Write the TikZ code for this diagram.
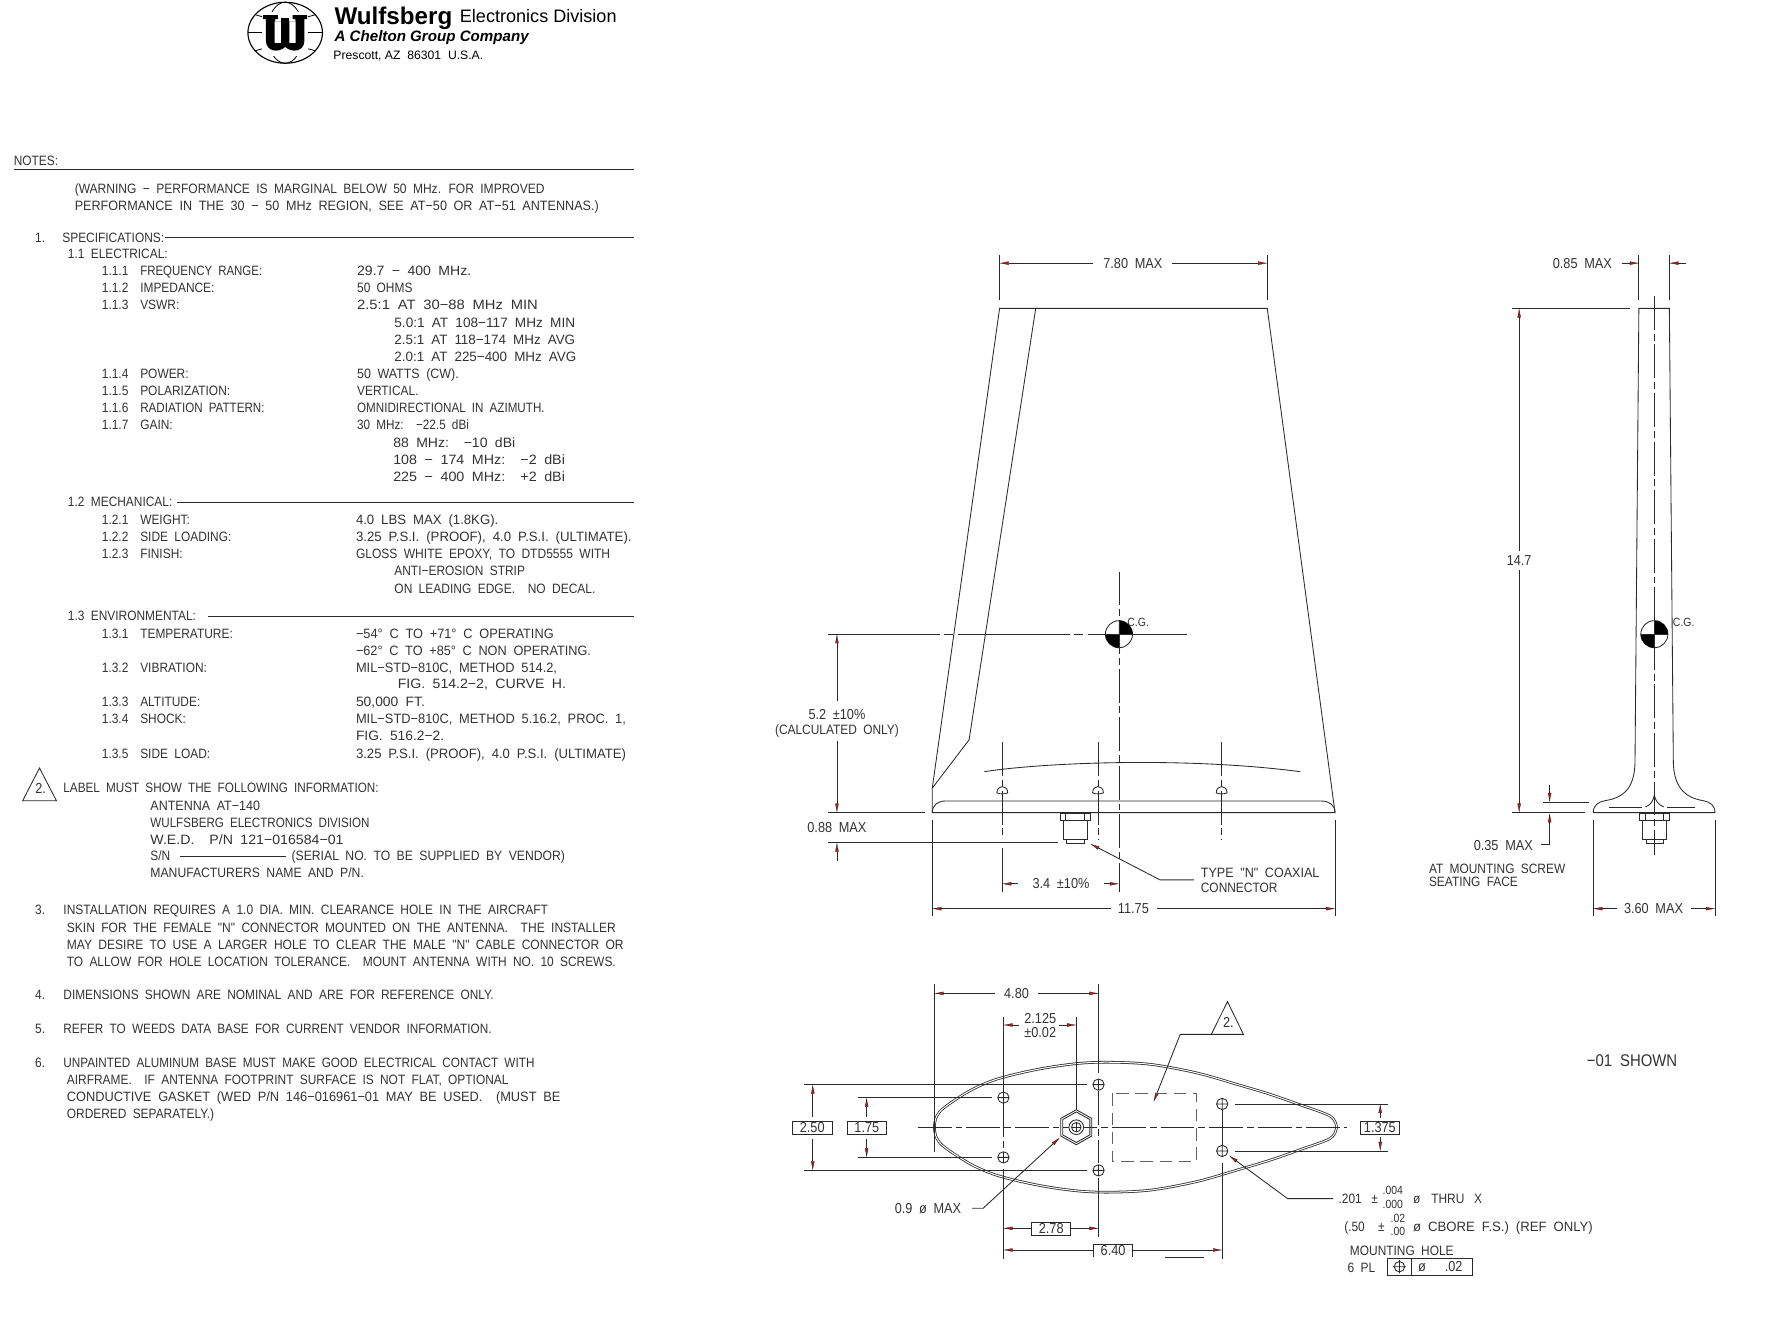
\documentclass[tikz,border=0pt]{standalone}
\usepackage{fontspec}
\usepackage{graphicx}
\usetikzlibrary{arrows.meta,calc}
\setmainfont{Liberation Sans}
\newfontfamily\cad[FakeStretch=0.88,WordSpace=1.9]{Liberation Sans}
\definecolor{arred}{HTML}{B02020}
\definecolor{ink}{HTML}{2A2A2A}
\definecolor{txtc}{HTML}{333333}
\tikzset{
  redtip/.tip={Latex[length=8pt,width=3pt,fill=arred,color=black,line width=.2pt]},
  ln/.style={draw=ink,line width=.75pt},
  arr/.style={ln,-redtip},
  cl/.style={ln,dash pattern=on 30pt off 3.5pt on 6pt off 3.5pt},
  clh/.style={ln,dash pattern=on 99pt off 4pt on 8pt off 4pt},
  txt/.style={inner sep=0pt,text=txtc,font=\cad\fontsize{12}{13}\selectfont},
  dimt/.style={inner sep=0pt,text=txtc,font=\cad\fontsize{12.8}{14}\selectfont},
  sm/.style={inner sep=0pt,text=txtc,font=\cad\fontsize{10.5}{11}\selectfont},
  bx/.style={draw=ink,line width=.75pt,fill=white,inner sep=0pt,text=txtc,font=\cad\fontsize{12.8}{14}\selectfont},
}
\newcounter{tn}
\newcommand{\tx}[3]{\stepcounter{tn}\node[txt,anchor=base west] (t\arabic{tn}) at (#1,#2+4.3) {#3};}
% fitted line: runs from x=#1 to x=#3, scaled horizontally only
\newcommand{\tf}[4]{\stepcounter{tn}\node[txt,anchor=base west] (t\arabic{tn}) at (#1,#2+4.3) {\resizebox{\dimexpr#3pt-#1pt\relax}{\height}{#4}};}
\newcommand{\tc}[3]{\stepcounter{tn}\node[dimt,anchor=base] (t\arabic{tn}) at (#1,#2+4.3) {#3};}
\newcommand{\ts}[3]{\stepcounter{tn}\node[sm,anchor=base west] (t\arabic{tn}) at (#1,#2+3.7) {#3};}
\newcommand{\hole}[2]{\draw[ln] (#1,#2) circle (5) (#1-5,#2)--(#1+5,#2) (#1,#2-5)--(#1,#2+5);}
\newcommand{\dhole}[1]{\draw[ln] (#1-4.8,702) .. controls (#1-4.8,694.5) and (#1+4.8,694.5) .. (#1+4.8,702) .. controls (#1+2,703.2) and (#1-2,703.2) .. (#1-4.8,702);}
\begin{document}
\begin{tikzpicture}[x=1pt,y=-1pt]
\useasboundingbox (0,0) rectangle (1568,1171.4);
\fill[white] (0,0) rectangle (1568,1171.4);
%% ---------- logo
\draw[line width=1pt] (252.5,29) ellipse (33 and 27);
\draw[line width=.7pt] (252.5,29) ellipse (16 and 27);
\draw[line width=.7pt] (219.5,29)--(285.5,29);
\draw[line width=.7pt] (226,13) .. controls (240,18) and (265,18) .. (279,13);
\draw[line width=.7pt] (226,45) .. controls (240,40) and (265,40) .. (279,45);
\fill[white] (232,11) rectangle (273,50);
\fill[black] (233,13.5)--(246,13.5)--(246,17)--(243.5,17)--(243.5,19)--(261.5,19)--(261.5,17)--(259,17)--(259,13.5)--(272,13.5)--(272,17)--(269.5,17)--(269.5,36)
  .. controls (269.5,46) and (258,47) .. (252.5,41.5) .. controls (247,47) and (235.5,46) .. (235.5,36)--(235.5,17)--(233,17)--cycle;
\fill[white] (243.2,19) rectangle (248.8,38) (256.2,19) rectangle (261.8,38);
\fill[black] (248.8,16) rectangle (256.2,38);
\node[inner sep=0pt,anchor=base west,font=\bfseries\fontsize{21.4}{23}\selectfont] (lg1) at (296,21.5) {Wulfsberg};
\node[inner sep=0pt,anchor=base west,font=\fontsize{16}{18}\selectfont] (lg2) at (407,20) {Electronics Division};
\node[inner sep=0pt,anchor=base west,font=\bfseries\itshape\fontsize{13.4}{15}\selectfont] (lg3) at (296,37) {A Chelton Group Company};
\node[inner sep=0pt,anchor=base west,font=\fontsize{10.8}{13}\selectfont] (lg4) at (295,53) {Prescott, AZ\ \ 86301\ \ U.S.A.};
%% ---------- notes
\tx{12}{142}{NOTES:}
\draw[ln] (12,150)--(561,150);
\tf{66}{167}{482}{(WARNING − PERFORMANCE IS MARGINAL BELOW 50 MHz. FOR IMPROVED}
\tf{66}{182}{530}{PERFORMANCE IN THE 30 − 50 MHz REGION, SEE AT−50 OR AT−51 ANTENNAS.)}
\tx{31}{210}{1.}\tx{55}{210}{SPECIFICATIONS:}
\draw[ln] (146,210.5)--(561,210.5);
\tx{60}{225}{1.1 ELECTRICAL:}
\tx{90}{240}{1.1.1}\tf{124}{240}{232}{FREQUENCY RANGE:}\tf{316}{240}{417}{29.7 − 400 MHz.}
\tx{90}{255}{1.1.2}\tx{124}{255}{IMPEDANCE:}\tx{316}{255}{50 OHMS}
\tx{90}{270}{1.1.3}\tx{124}{270}{VSWR:}\tf{316}{270}{476}{2.5:1 AT 30−88 MHz MIN}
\tf{349}{286}{509}{5.0:1 AT 108−117 MHz MIN}
\tf{349}{301}{509}{2.5:1 AT 118−174 MHz AVG}
\tf{349}{316}{510}{2.0:1 AT 225−400 MHz AVG}
\tx{90}{331}{1.1.4}\tx{124}{331}{POWER:}\tf{316}{331}{406}{50 WATTS (CW).}
\tx{90}{346}{1.1.5}\tx{124}{346}{POLARIZATION:}\tx{316}{346}{VERTICAL.}
\tx{90}{361}{1.1.6}\tf{124}{361}{234}{RADIATION PATTERN:}\tf{316}{361}{482}{OMNIDIRECTIONAL IN AZIMUTH.}
\tx{90}{376}{1.1.7}\tx{124}{376}{GAIN:}\tf{316}{376}{415}{30 MHz:\ \ −22.5 dBi}
\tf{348}{392}{456}{88 MHz:\ \ −10 dBi}
\tf{348}{407}{500}{108 − 174 MHz:\ \ −2 dBi}
\tf{348}{422}{500}{225 − 400 MHz:\ \ +2 dBi}
\tx{60}{444}{1.2 MECHANICAL:}
\draw[ln] (157,445)--(561,445);
\tx{90}{460}{1.2.1}\tx{124}{460}{WEIGHT:}\tf{315}{460}{441}{4.0 LBS MAX (1.8KG).}
\tx{90}{475}{1.2.2}\tx{124}{475}{SIDE LOADING:}\tf{315}{475}{559}{3.25 P.S.I. (PROOF), 4.0 P.S.I. (ULTIMATE).}
\tx{90}{490}{1.2.3}\tx{124}{490}{FINISH:}\tf{315}{490}{540}{GLOSS WHITE EPOXY, TO DTD5555 WITH}
\tx{349}{505.5}{ANTI−EROSION STRIP}
\tf{349}{521}{527}{ON LEADING EDGE.\ \ NO DECAL.}
\tx{60}{545}{1.3 ENVIRONMENTAL:}
\draw[line width=1pt,draw=ink] (184,545.5)--(561,545.5);
\tx{90}{561}{1.3.1}\tx{124}{561}{TEMPERATURE:}\tf{315}{561}{490}{−54° C TO +71° C OPERATING}
\tf{315}{576}{523}{−62° C TO +85° C NON OPERATING.}
\tx{90}{591}{1.3.2}\tx{124}{591}{VIBRATION:}\tf{315}{591}{493}{MIL−STD−810C, METHOD 514.2,}
\tf{352}{605}{501}{FIG. 514.2−2, CURVE H.}
\tx{90}{621}{1.3.3}\tx{124}{621}{ALTITUDE:}\tf{315}{621}{376}{50,000 FT.}
\tx{90}{636}{1.3.4}\tx{124}{636}{SHOCK:}\tf{315}{636}{554}{MIL−STD−810C, METHOD 5.16.2, PROC. 1,}
\tf{315}{651}{393}{FIG. 516.2−2.}
\tx{90}{667}{1.3.5}\tx{124}{667}{SIDE LOAD:}\tf{315}{667}{554}{3.25 P.S.I. (PROOF), 4.0 P.S.I. (ULTIMATE)}
\draw[ln] (35,680)--(20,709)--(50,709)--cycle;
\tc{36}{698}{2.}
\tf{56}{697}{335}{LABEL MUST SHOW THE FOLLOWING INFORMATION:}
\tf{133}{713}{230}{ANTENNA AT−140}
\tf{133}{728}{327}{WULFSBERG ELECTRONICS DIVISION}
\tf{133}{743}{304}{W.E.D.\ \ P/N 121−016584−01}
\tx{133}{758}{S/N}\draw[ln] (159,758)--(253,758);\tf{258}{758}{500}{(SERIAL NO. TO BE SUPPLIED BY VENDOR)}
\tf{133}{773}{322}{MANUFACTURERS NAME AND P/N.}
\tx{31}{805}{3.}\tf{56}{805}{485}{INSTALLATION REQUIRES A 1.0 DIA. MIN. CLEARANCE HOLE IN THE AIRCRAFT}
\tf{59}{821}{545}{SKIN FOR THE FEMALE "N" CONNECTOR MOUNTED ON THE ANTENNA.\ \ THE INSTALLER}
\tf{59}{836}{552}{MAY DESIRE TO USE A LARGER HOLE TO CLEAR THE MALE "N" CABLE CONNECTOR OR}
\tf{59}{851}{545}{TO ALLOW FOR HOLE LOCATION TOLERANCE.\ \ MOUNT ANTENNA WITH NO. 10 SCREWS.}
\tx{31}{881}{4.}\tf{56}{881}{437}{DIMENSIONS SHOWN ARE NOMINAL AND ARE FOR REFERENCE ONLY.}
\tx{31}{911}{5.}\tf{56}{911}{435}{REFER TO WEEDS DATA BASE FOR CURRENT VENDOR INFORMATION.}
\tx{31}{941}{6.}\tf{56}{941}{473}{UNPAINTED ALUMINUM BASE MUST MAKE GOOD ELECTRICAL CONTACT WITH}
\tf{59}{956}{450}{AIRFRAME.\ \ IF ANTENNA FOOTPRINT SURFACE IS NOT FLAT, OPTIONAL}
\tf{59}{971}{496}{CONDUCTIVE GASKET (WED P/N 146−016961−01 MAY BE USED.\ \ (MUST BE}
\tx{59}{986}{ORDERED SEPARATELY.)}
%% ---------- front view
\draw[ln] (825.4,719.5)--(825.4,697.8)--(885,273)--(1122,273)--(1182,719.5)--cycle;
\draw[ln] (917,273)--(858,655)--(825.4,697.8);
\draw[ln] (825.4,719.5) .. controls (825.4,713) and (830,709.2) .. (837,709.2)--(1170,709.2) .. controls (1177,709.2) and (1182,713) .. (1182,719.5);
\draw[ln] (871.5,683.2) .. controls (925,675) and (1050,670) .. (1151,683.2);
\dhole{887.4}\dhole{972.1}\dhole{1081.6}
\draw[cl] (887.4,657)--(887.4,743);
\draw[cl] (972.1,657)--(972.1,744);
\draw[cl] (1081.6,657)--(1081.6,744);
\draw[cl] (990.7,506)--(990.7,790);
\draw[ln] (887.4,751)--(887.4,790);
\draw[clh] (733,561.5)--(1051,561.5);
% C.G.
\draw[ln,fill=white] (990.7,561.5) circle (12);
\fill[black] (990.7,561.5)--(1002.7,561.5) arc (0:-90:12)--cycle;
\fill[black] (990.7,561.5)--(978.7,561.5) arc (180:90:12)--cycle;
\draw[ln] (978.7,561.5)--(1002.7,561.5) (990.7,549.5)--(990.7,573.5);
\ts{998}{551}{C.G.}
% connector
\draw[ln,fill=white] (938.8,720.4) rectangle (965.6,726);
\draw[ln] (943.5,720.4)--(943.5,726) (960.5,720.4)--(960.5,726);
\draw[ln,fill=white] (941.4,726) rectangle (963,743);
\draw[ln,fill=white] (944.4,743) rectangle (959.7,746.6);
% front dims
\draw[ln] (885,226)--(885,266) (1122,226)--(1122,266);
\draw[arr] (968,233)--(885,233);
\draw[arr] (1038,233)--(1122,233);
\tc{1003}{233}{7.80 MAX}
\draw[arr] (741,621)--(741,561.5);
\draw[arr] (741,656)--(741,719.5);
\tc{741}{633}{5.2 ±10\%}
\node[txt,anchor=base] (calc) at (741,650.3) {(CALCULATED ONLY)};
\draw[ln] (733,719.5)--(819,719.5);
\draw[ln] (733,746)--(937,746);
\tc{741}{733}{0.88 MAX}
\draw[arr] (741,762)--(741,746);
\draw[ln] (825.4,726)--(825.4,811) (1182,726)--(1182,811);
\draw[arr] (984,804.5)--(825.4,804.5);
\draw[arr] (1024,804.5)--(1182,804.5);
\tc{1003.5}{804.5}{11.75}
\draw[arr] (901,782.5)--(887.4,782.5);
\draw[arr] (977,782.5)--(990.7,782.5);
\tc{939.4}{782.5}{3.4 ±10\%}
\draw[arr] (1057,779)--(1027,779)--(965.6,747.2);
\tf{1063}{773}{1168}{TYPE "N" COAXIAL}
\tx{1063}{786}{CONNECTOR}
%% ---------- side view
\draw[ln] (1410.6,719.5) .. controls (1410.6,713) and (1415,710) .. (1421,708.9) .. controls (1440,706) and (1447.6,695) .. (1447.6,672.9)--(1451,273)--(1478,273)--(1481.5,672.9) .. controls (1481.5,695) and (1490,706) .. (1508,708.9) .. controls (1514,710) and (1518.4,713) .. (1518.4,719.5)--cycle;
\draw[ln] (1424.5,714.5)--(1454,714.5) (1476,714.5)--(1501,714.5);
\draw[ln] (1456.8,714.5) .. controls (1461,713) and (1464,709) .. (1464.7,703.9) .. controls (1465.4,709) and (1469,713) .. (1473,714.5);
\draw[ln,fill=white] (1451.7,720) rectangle (1478.3,726);
\draw[ln] (1457,720)--(1457,726) (1472.5,720)--(1472.5,726);
\draw[ln,fill=white] (1454.3,726) rectangle (1475.5,742.8);
\draw[ln,fill=white] (1457.3,742.8) rectangle (1472.6,746.3);
\draw[cl] (1464.7,262)--(1464.7,757);
\draw[ln,fill=white] (1464.7,561.5) circle (12);
\fill[black] (1464.7,561.5)--(1476.7,561.5) arc (0:-90:12)--cycle;
\fill[black] (1464.7,561.5)--(1452.7,561.5) arc (180:90:12)--cycle;
\draw[ln] (1452.7,561.5)--(1476.7,561.5) (1464.7,549.5)--(1464.7,573.5);
\ts{1481}{551}{C.G.}
\draw[ln] (1451,226)--(1451,266) (1478,226)--(1478,266);
\draw[arr] (1436,233)--(1451,233);
\draw[arr] (1493,233)--(1478,233);
\tc{1401}{233}{0.85 MAX}
\draw[ln] (1339,273)--(1443,273) (1339,719.5)--(1403,719.5) (1366,710)--(1407,710);
\draw[arr] (1345,488)--(1345,273);
\draw[arr] (1345,505)--(1345,719.5);
\tc{1345}{496}{14.7}
\draw[arr] (1372,695)--(1372,710);
\draw[arr] (1364,748)--(1372,748)--(1372,720);
\tc{1331}{749}{0.35 MAX}
\tx{1265}{769}{AT MOUNTING SCREW}
\tx{1265}{781}{SEATING FACE}
\draw[ln] (1410.6,726)--(1410.6,811) (1518.4,726)--(1518.4,811);
\draw[arr] (1432,804.5)--(1410.6,804.5);
\draw[arr] (1497,804.5)--(1518.4,804.5);
\tc{1464}{804.5}{3.60 MAX}
\node[inner sep=0pt,text=txtc,font=\cad\fontsize{15}{17}\selectfont,anchor=base] (shown) at (1445,944.5) {−01 SHOWN};
%% ---------- bottom view
\draw[draw=ink,double=white,double distance=.9pt,line width=.7pt] plot[smooth cycle,tension=.55] coordinates {
 (827.3,998) (829.5,988) (837,979.8) (860,965) (884,955) (920,946.5) (955,941.5) (985,940.5) (1020,942.5) (1060,950) (1097,960.6) (1125,969) (1151.5,978.3) (1172,985.5) (1180,990) (1183.3,998)
 (1180,1006) (1172,1010.5) (1151.5,1017.7) (1125,1027) (1097,1035.4) (1060,1046) (1020,1053.5) (985,1055.5) (955,1054.5) (920,1049.5) (884,1041) (860,1031) (837,1016.2) (829.5,1008)};
\draw[cl] (812.5,998)--(1193,998);
\draw[ln] (827.3,871.2)--(827.3,1020);
\draw[arr] (881,879.5)--(827.3,879.5);
\draw[arr] (919,879.5)--(972.6,879.5);
\tc{900}{879.5}{4.80}
\draw[ln] (972.6,871.2)--(972.6,950);
\draw[cl] (972.6,966)--(972.6,1030);
\draw[ln] (972.6,1043)--(972.6,1095);
\draw[ln] (888.4,900)--(888.4,966.5);
\draw[cl] (888.4,977)--(888.4,1019);
\draw[ln] (888.4,1035)--(888.4,1114.6);
\draw[ln] (952.8,900)--(952.8,982.7);
\draw[arr] (902,907.5)--(888.4,907.5);
\draw[arr] (938,907.5)--(952.8,907.5);
\tc{921}{901.6}{2.125}
\tc{921}{914}{±0.02}
\draw[ln] (1082.1,982)--(1082.1,1014) (1082.1,1030)--(1082.1,1114.6);
\hole{972.6}{960.3}\hole{972.6}{1036.2}\hole{888.4}{971.8}\hole{888.4}{1024.7}\hole{1082.1}{977.4}\hole{1082.1}{1019}
% triangle 2.
\draw[ln] (1086.8,886.8)--(1072.4,915.8)--(1100.9,915.8)--cycle;
\tc{1087.5}{905}{2.}
\draw[arr] (1072.4,915.8)--(1044.9,915.8)--(1021.4,975.4);
\draw[ln,draw=ink!75,dash pattern=on 11pt off 6pt] (984.5,968) rectangle (1059.5,1027.9);
% hex
\draw[ln] (952.9,982.5)--(966.6,990.2)--(966.6,1005.8)--(952.9,1013.5)--(939.2,1005.8)--(939.2,990.2)--cycle;
\draw[ln] (952.9,984.5)--(964.9,991.2)--(964.9,1004.8)--(952.9,1011.5)--(940.9,1004.8)--(940.9,991.2)--cycle;
\draw[ln,fill=white] (952.9,998) circle (6.5) circle (4.2);
\draw[ln] (948.7,998)--(957.1,998) (952.9,993.8)--(952.9,1002.2);
% dims left
\draw[ln] (711.7,960.3)--(962.5,960.3) (711.7,1036.2)--(962.5,1036.2);
\draw[arr] (719.6,989)--(719.6,960.3);
\draw[arr] (719.6,1008)--(719.6,1036.2);
\node[bx,minimum width=35pt,minimum height=11.3pt] (b250) at (719.1,998.6) {2.50};
\draw[ln] (759.8,971.8)--(878,971.8) (759.8,1024.7)--(878,1024.7);
\draw[arr] (767.3,989)--(767.3,971.8);
\draw[arr] (767.3,1008)--(767.3,1024.7);
\node[bx,minimum width=34.3pt,minimum height=11.3pt] (b175) at (767.5,998.6) {1.75};
\draw[ln] (1093,977.4)--(1229.2,977.4) (1093,1019)--(1229.2,1019);
\draw[arr] (1222,990)--(1222,977.4);
\draw[arr] (1222,1007)--(1222,1019);
\node[bx,minimum width=34.7pt,minimum height=11.3pt] (b1375) at (1221.7,998.6) {1.375};
% dims below
\draw[arr] (913.4,1087.5)--(888.4,1087.5);
\draw[arr] (948,1087.5)--(972.6,1087.5);
\node[bx,minimum width=34.6pt,minimum height=11.2pt] (b278) at (930.7,1087.8) {2.78};
\draw[arr] (968.3,1106.7)--(888.4,1106.7);
\draw[arr] (1002.6,1106.7)--(1082.1,1106.7);
\draw[ln] (968.3,1113)--(968.3,1101.4)--(1002.6,1101.4)--(1002.6,1113);
\tc{985.5}{1107}{6.40}
\draw[ln] (1031.5,1113.2)--(1065.9,1113.2);
\tc{821.6}{1069.8}{0.9 ø MAX}
\draw[arr] (860.6,1069.8)--(870.4,1069.8)--(938.3,1007.2);
\draw[arr] (1180.4,1061.2)--(1140,1061.2)--(1088.3,1023.2);
\tx{1185}{1061}{.201}\tx{1214}{1061}{±}
\ts{1224}{1054}{.004}\ts{1224}{1066}{.000}
\tx{1251}{1061}{ø}\tx{1267}{1061}{THRU}\tx{1305}{1061}{X}
\tx{1190}{1086}{(.50}\tx{1220}{1086}{±}
\ts{1231}{1079}{.02}\ts{1231}{1090}{.00}
\tf{1251}{1086}{1410}{ø CBORE F.S.) (REF ONLY)}
\tx{1195}{1107}{MOUNTING HOLE}
\tx{1193}{1122}{6 PL}
\draw[ln] (1228,1114) rectangle (1304,1129) (1250,1114)--(1250,1129);
\draw[ln] (1239,1121.5) circle (4.6) (1233,1121.5)--(1245,1121.5) (1239,1115.5)--(1239,1127.5);
\tc{1259}{1121.5}{ø}\tc{1287}{1121.5}{.02}
\end{tikzpicture}
\end{document}
